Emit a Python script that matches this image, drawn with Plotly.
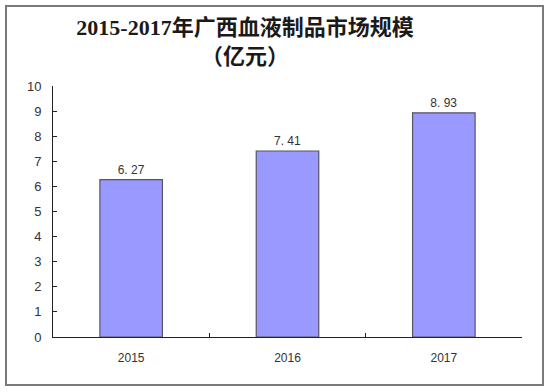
import plotly.graph_objects as go

years = ["2015", "2016", "2017"]
values = [6.27, 7.41, 8.93]
labels = ["6. 27", "7. 41", "8. 93"]
y_ticks = list(range(0, 11))

fig = go.Figure(go.Bar(
    x=years, y=values, text=labels, textposition="outside",
    textfont=dict(family="Liberation Sans, Arial", size=12, color="#333333"),
    marker=dict(color="#9999FF", line=dict(color="#555566", width=1.2)),
    width=0.4, cliponaxis=False,
))

L, R, T, B = 53, 28, 86, 55
W, H = 550, 392
pw, ph = W - L - R, H - T - B

fig.update_layout(
    width=W, height=H,
    margin=dict(l=L, r=R, t=T, b=B),
    paper_bgcolor="white", plot_bgcolor="white",
    showlegend=False,
    title=dict(
        text="<b>2015-2017年广西血液制品市场规模</b><br><b>（亿元）</b>",
        x=245 / W, xanchor="center", y=1 - 35 / H, yanchor="middle",
        font=dict(family="Liberation Serif, Noto Sans CJK SC", size=22, color="#1a1a1a"),
    ),
    xaxis=dict(
        type="category", showline=True, linecolor="#222222", linewidth=1,
        ticks="inside", tickson="boundaries", ticklen=4, tickcolor="#222222",
        tickfont=dict(family="Liberation Sans, Arial", size=12, color="#333333"),
        ticklabelstandoff=10,
        showgrid=False, fixedrange=True,
    ),
    yaxis=dict(
        range=[0, 10], tickvals=y_ticks, showline=True, linecolor="#222222", linewidth=1,
        ticks="inside", ticklen=4, tickcolor="#222222",
        tickfont=dict(family="Liberation Sans, Arial", size=13, color="#333333"),
        ticklabelstandoff=8,
        showgrid=False, zeroline=False, fixedrange=True,
    ),
    shapes=[dict(
        type="rect", xref="paper", yref="paper",
        x0=(6 - L) / pw, x1=(543 - L) / pw,
        y0=(H - B - 385) / ph, y1=(H - B - 6) / ph,
        line=dict(color="#7a7a7a", width=2), fillcolor="rgba(0,0,0,0)", layer="below",
    )],
)

fig.write_html("out.html")
